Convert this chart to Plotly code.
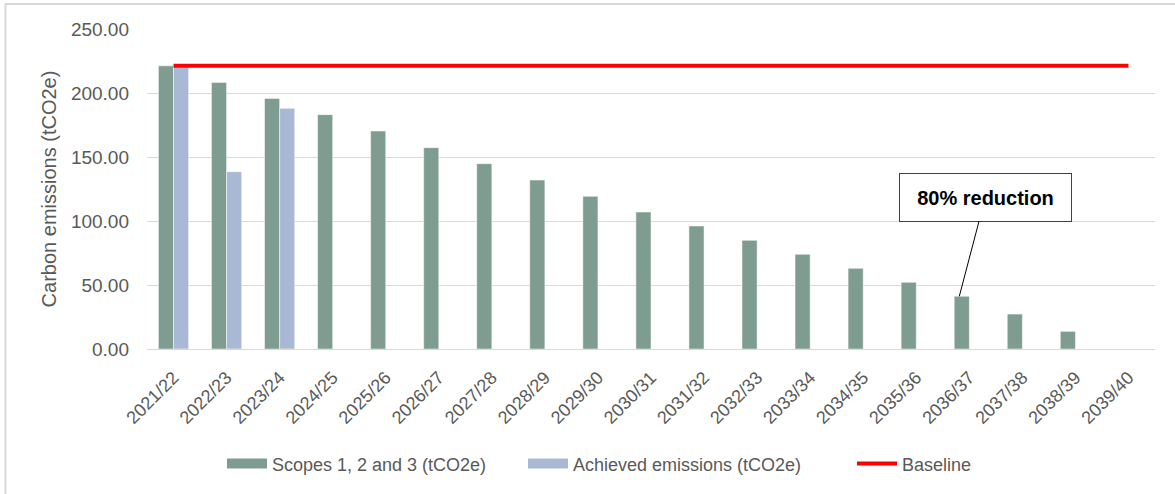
import plotly.graph_objects as go

years = ["2021/22", "2022/23", "2023/24", "2024/25", "2025/26", "2026/27", "2027/28",
         "2028/29", "2029/30", "2030/31", "2031/32", "2032/33", "2033/34", "2034/35",
         "2035/36", "2036/37", "2037/38", "2038/39", "2039/40"]
scopes = [221.2, 208.3, 195.8, 183.1, 170.3, 157.3, 144.8, 132.0, 119.3, 107.0,
          96.1, 84.9, 74.0, 63.0, 52.1, 41.2, 27.3, 13.8, 0.0]
achieved = [221.2, 138.5, 188.0] + [None] * 16
baseline = [221.2] * 19
y_ticks = [0, 50, 100, 150, 200, 250]

font_main = "Liberation Sans, Arial, sans-serif"
grey_txt = "#595959"
green = "#7F9C90"
blue = "#A9B8D4"
red = "#FF0000"

fig = go.Figure()
fig.add_trace(go.Bar(x=years, y=scopes, name="Scopes 1, 2 and 3 (tCO2e)", showlegend=False,
                     marker=dict(color=green, line=dict(color="#FFFFFF", width=0.5))))
fig.add_trace(go.Bar(x=years, y=achieved, name="Achieved emissions (tCO2e)", showlegend=False,
                     marker=dict(color=blue, line=dict(color="#FFFFFF", width=0.5))))
fig.add_trace(go.Scatter(x=years, y=baseline, name="Baseline", mode="lines", showlegend=False,
                         line=dict(color=red, width=4)))

# legend-only entries (wide rectangular keys like the original)
fig.add_trace(go.Scatter(x=[None], y=[None], mode="lines", name="Scopes 1, 2 and 3 (tCO2e)",
                         line=dict(color=green, width=13), legend="legend"))
fig.add_trace(go.Scatter(x=[None], y=[None], mode="lines", name="Achieved emissions (tCO2e)",
                         line=dict(color=blue, width=13), legend="legend2"))
fig.add_trace(go.Scatter(x=[None], y=[None], mode="lines", name="Baseline",
                         line=dict(color=red, width=4), legend="legend3"))

fig.add_annotation(x="2036/37", y=scopes[15], xref="x", yref="y",
                   text="<b>80% reduction</b>", showarrow=True, arrowhead=0,
                   arrowwidth=1, arrowcolor="#000000", ax=26, ay=-99,
                   xshift=-10, width=171, height=47, borderpad=0,
                   bgcolor="#FFFFFF", bordercolor="#404040", borderwidth=1,
                   font=dict(family=font_main, size=20, color="#000000"))

fig.add_shape(type="rect", xref="paper", yref="paper",
              x0=-0.1404, x1=1.1, y0=-0.6, y1=1.078,
              line=dict(color="#D9D9D9", width=2), fillcolor="rgba(0,0,0,0)", layer="below")

leg_common = dict(orientation="h", xanchor="left", y=-0.359, yanchor="middle",
                  font=dict(size=18, color=grey_txt), itemwidth=40,
                  bgcolor="rgba(0,0,0,0)")

fig.update_layout(
    width=1175, height=494,
    margin=dict(l=147, r=20, t=29, b=145),
    paper_bgcolor="#FFFFFF", plot_bgcolor="#FFFFFF",
    barmode="group", bargap=0.43, bargroupgap=0,
    font=dict(family=font_main, color=grey_txt),
    showlegend=True,
    legend=dict(x=0.0744, **leg_common),
    legend2=dict(x=0.3730, **leg_common),
    legend3=dict(x=0.6994, **leg_common),
    xaxis=dict(type="category", tickangle=-45, tickfont=dict(size=18, color=grey_txt),
               showgrid=False, showline=True, linecolor="#D9D9D9", linewidth=1,
               ticks="", range=[-0.5, 18.5], ticklabelstandoff=10),
    yaxis=dict(range=[0, 250], tickvals=y_ticks, tickformat=".2f",
               tickfont=dict(size=19, color=grey_txt), showgrid=True,
               gridcolor="#D9D9D9", gridwidth=1, zeroline=False, showline=False,
               ticks="", ticklen=0, ticklabelstandoff=17,
               title=dict(text="Carbon emissions (tCO2e)", font=dict(size=20, color=grey_txt),
                          standoff=8)),
)

fig.write_html("out.html", config={"displayModeBar": False},
               post_script="document.body.style.margin='0px';")
